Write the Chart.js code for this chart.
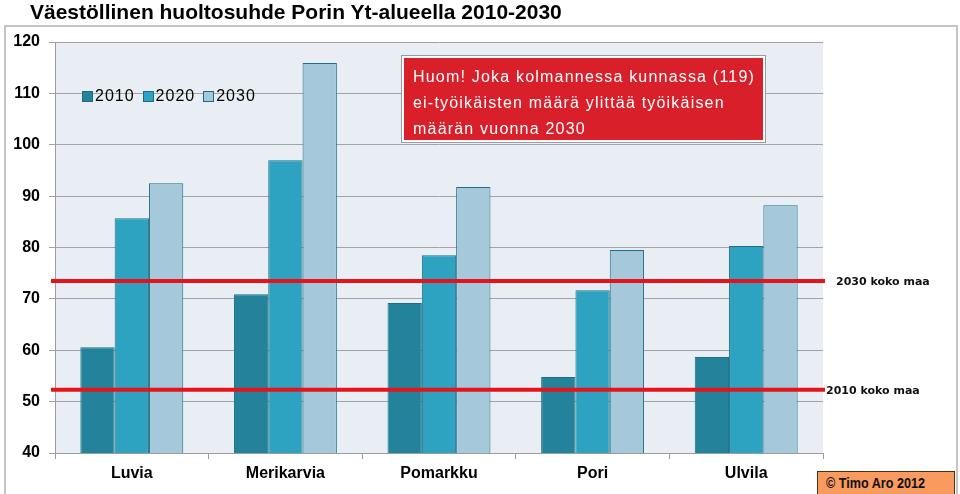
<!DOCTYPE html>
<html>
<head>
<meta charset="utf-8">
<script src="https://cdn.jsdelivr.net/npm/chart.js@4"></script>
<style>
  html, body { margin: 0; padding: 0; background: #fff; }
  #wrap { position: relative; width: 960px; height: 494px; overflow: hidden; font-family: 'Liberation Sans', Arial, sans-serif; }
  #frame { position: absolute; left: 4px; top: 25px; width: 950px; height: 480px; border: 2px solid #c4c4c4; }
  #title { position: absolute; left: 30px; top: 0px; font-size: 21px; font-weight: bold; line-height: 23px; color: #000; white-space: nowrap; }
  #chart { position: absolute; left: 0; top: 0; }
  #legend { position: absolute; left: 82px; top: 87px; display: flex; align-items: center; font-size: 16px; letter-spacing: 1px; color: #000; }
  #legend span.box { display: inline-block; width: 9px; height: 9px; border: 1px solid #1f6a80; margin-right: 2px; }
  #legend span.item { display: inline-flex; align-items: center; margin-right: 8px; }
  #note { position: absolute; left: 402px; top: 56px; width: 350px; height: 76px; padding: 6px 0 0 9px; background: #d81f2a; border: 2px solid #fff; box-shadow: 0 0 0 1px #9a9a9a; color: #fff; font-size: 16px; line-height: 26px; letter-spacing: 1.2px; white-space: nowrap; }
  #copy { position: absolute; left: 817px; top: 471px; width: 138px; height: 24px; background: #f99a5e; border: 1px solid #4a2e18; font-weight: bold; font-size: 15px; line-height: 21px; padding-left: 8px; box-sizing: border-box; color: #111; white-space: nowrap; }
  #copy span { display: inline-block; transform: scaleX(0.84); transform-origin: left center; }
</style>
</head>
<body>
<div id="wrap">
  <div id="frame"></div>
  <canvas id="chart" width="960" height="494"></canvas>
  <div id="title">Väestöllinen huoltosuhde Porin Yt-alueella 2010-2030</div>
  <div id="legend"></div>
  <div id="note">Huom! Joka kolmannessa kunnassa (119)<br>ei-työikäisten määrä ylittää työikäisen<br>määrän vuonna 2030</div>
  <div id="copy"><span>© Timo Aro 2012</span></div>
</div>
<script>
const municipalities = ['Luvia', 'Merikarvia', 'Pomarkku', 'Pori', 'Ulvila'];
const seriesYears = ['2010', '2020', '2030'];
const values2010 = [60.6, 70.9, 69.2, 54.8, 58.7];
const values2020 = [85.7, 97.0, 78.5, 71.7, 80.3];
const values2030 = [92.5, 115.9, 91.8, 79.5, 88.2];
const nationalLevels = [73.5, 52.3];
const nationalLabels = ['2030 koko maa', '2010 koko maa'];
const yTicks = [40, 50, 60, 70, 80, 90, 100, 110, 120];

const SERIES_COLORS = ['#22839b', '#2ea3c1', '#a5c9da'];
const BAR_BORDER = '#1e6e85';

// legend inside the plot area, built from the series
const legendEl = document.getElementById('legend');
seriesYears.forEach((y, i) => {
  const item = document.createElement('span');
  item.className = 'item';
  item.innerHTML = `<span class="box" style="background:${SERIES_COLORS[i]}"></span>${y}`;
  legendEl.appendChild(item);
});

const plotBackground = {
  id: 'plotBackground',
  beforeDraw(chart) {
    const { ctx, chartArea: a } = chart;
    ctx.save();
    ctx.fillStyle = '#e8eef3';
    ctx.fillRect(a.left, a.top, a.right - a.left, a.bottom - a.top);
    ctx.restore();
  }
};

// red national reference lines with their labels on the right
const referenceLines = {
  id: 'referenceLines',
  afterDatasetsDraw(chart) {
    const { ctx, chartArea: a, scales } = chart;
    ctx.save();
    nationalLevels.forEach((v, i) => {
      const y = scales.y.getPixelForValue(v);
      ctx.strokeStyle = '#e3141b';
      ctx.lineWidth = 4;
      ctx.beginPath();
      ctx.moveTo(51, y);
      ctx.lineTo(a.right + 2, y);
      ctx.stroke();
      ctx.fillStyle = '#111';
      ctx.font = "bold 11px 'DejaVu Sans', sans-serif";
      ctx.textBaseline = 'middle';
      ctx.fillText(nationalLabels[i], i === 0 ? 836 : 826, y + 1);
    });
    ctx.restore();
  }
};

new Chart(document.getElementById('chart'), {
  type: 'bar',
  data: {
    labels: municipalities,
    datasets: [values2010, values2020, values2030].map((d, i) => ({
      label: seriesYears[i],
      data: d,
      backgroundColor: SERIES_COLORS[i],
      borderColor: BAR_BORDER,
      borderWidth: 1,
      categoryPercentage: 0.67,
      barPercentage: 1.0,
    }))
  },
  options: {
    responsive: false,
    animation: false,
    devicePixelRatio: 1,
    layout: { padding: { left: 0, top: 42, right: 137, bottom: 0 } },
    plugins: { legend: { display: false }, title: { display: false }, tooltip: { enabled: false } },
    scales: {
      x: {
        afterFit: s => { s.height = 41; },
        grid: { display: true, drawOnChartArea: false, offset: true, tickLength: 6, color: '#9c9c9c' },
        border: { display: true, color: '#9c9c9c' },
        ticks: { color: '#000', padding: 5, font: { family: "'Liberation Sans', Arial, sans-serif", size: 16, weight: 'bold' } }
      },
      y: {
        min: 40,
        max: 120,
        afterFit: s => { s.width = 55; },
        afterBuildTicks: s => { s.ticks = yTicks.map(v => ({ value: v })); },
        grid: { color: '#a3a3a3', lineWidth: 1, tickLength: 6 },
        border: { display: true, color: '#9c9c9c' },
        ticks: { color: '#000', padding: 9, font: { family: "'Liberation Sans', Arial, sans-serif", size: 16, weight: 'bold' } }
      }
    }
  },
  plugins: [plotBackground, referenceLines]
});
</script>
</body>
</html>
